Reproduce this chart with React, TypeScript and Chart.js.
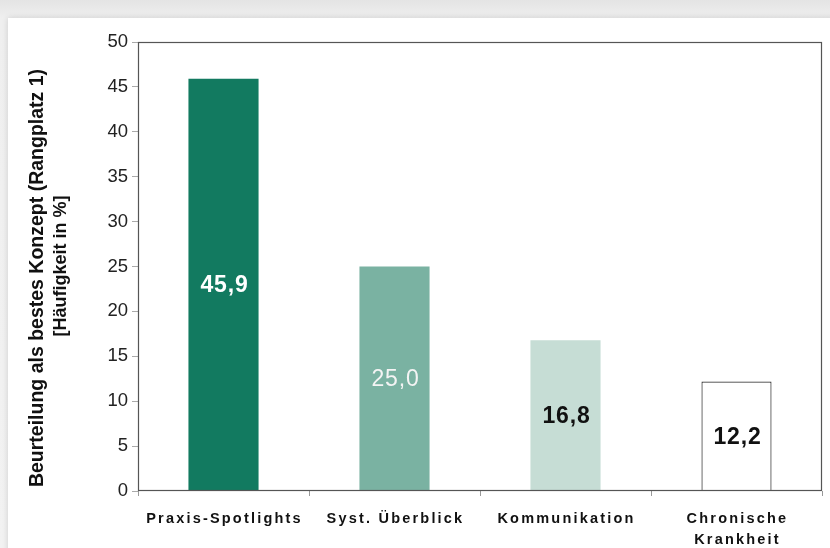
import React, { useEffect, useRef } from "react";
import { Chart, registerables } from "chart.js";

Chart.register(...registerables);

const categories = ["Praxis-Spotlights", "Syst. Überblick", "Kommunikation", ["Chronische", "Krankheit"]];
const values = [45.9, 25.0, 16.8, 12.2];
const valueLabels = ["45,9", "25,0", "16,8", "12,2"];
const barColors = ["#127a60", "#7ab2a2", "#c6ddd5", "#ffffff"];
const labelColors = ["#ffffff", "#f4f4f4", "#111111", "#111111"];
const labelWeights = ["bold", "normal", "bold", "bold"];
const yTitle = ["Beurteilung als bestes Konzept (Rangplatz 1)", "[Häufigkeit in %]"];

const FONT = "'Liberation Sans', Arial, sans-serif";

const customPlugin = {
  id: "custom",
  afterDraw(chart: any) {
    const ctx = chart.ctx;
    const a = chart.chartArea;
    const x = chart.scales.x;
    const y = chart.scales.y;
    ctx.save();
    ctx.strokeStyle = "#555";
    ctx.lineWidth = 1.2;
    ctx.strokeRect(a.left + 0.5, a.top + 0.5, a.right - a.left - 1, a.bottom - a.top - 1);

    // value labels
    ctx.textAlign = "center";
    ctx.textBaseline = "middle";
    (ctx as any).letterSpacing = "0.8px";
    values.forEach((v, i) => {
      const px = x.getPixelForValue(i);
      const py = y.getPixelForValue(v / 2);
      ctx.font = `${labelWeights[i]} 23px ${FONT}`;
      ctx.fillStyle = labelColors[i];
      ctx.fillText(valueLabels[i], px + 1, py + 1);
    });

    // x labels
    ctx.font = `bold 14.5px ${FONT}`;
    (ctx as any).letterSpacing = "2.2px";
    ctx.fillStyle = "#111";
    categories.forEach((c, i) => {
      const px = x.getPixelForValue(i);
      const lines = Array.isArray(c) ? c : [c];
      lines.forEach((ln, j) => {
        ctx.fillText(ln, px + 1, 519 + j * 21);
      });
    });
    (ctx as any).letterSpacing = "0px";

    // y title
    ctx.fillStyle = "#111";
    ctx.translate(38, 278);
    ctx.rotate(-Math.PI / 2);
    ctx.font = `bold 19.5px ${FONT}`;
    ctx.fillText(yTitle[0], 0, 0);
    ctx.font = `bold 18px ${FONT}`;
    ctx.fillText(yTitle[1], 12, 23);
    ctx.restore();
  },
};

export default function App() {
  const ref = useRef<HTMLCanvasElement>(null);
  useEffect(() => {
    const chart = new Chart(ref.current!, {
      type: "bar",
      data: {
        labels: categories.map((c) => (Array.isArray(c) ? c.join(" ") : c)),
        datasets: [
          {
            data: values,
            backgroundColor: barColors,
            borderColor: ["#127a60", "#7ab2a2", "#c6ddd5", "#333333"],
            borderWidth: [0, 0, 0, 1.2],
            categoryPercentage: 1,
            barPercentage: 0.41,
          },
        ],
      },
      options: {
        responsive: false,
        animation: false,
        events: [],
        layout: { padding: { left: 0, top: 42, right: 8, bottom: 0 } },
        plugins: { legend: { display: false }, tooltip: { enabled: false } },
        scales: {
          x: {
            offset: true,
            grid: { display: true, offset: true, drawOnChartArea: false, drawTicks: true, tickLength: 5, color: "#999" },
            border: { display: false },
            ticks: { color: "rgba(0,0,0,0)", font: { size: 14 } },
            afterFit: (s: any) => { s.height = 57; },
          },
          y: {
            min: 0,
            max: 50,
            grid: { display: true, drawOnChartArea: false, drawTicks: true, tickLength: 6, color: "#aaa" },
            border: { display: false },
            ticks: { stepSize: 5, color: "#222", padding: 4, font: { size: 18.5, family: FONT } },
            afterFit: (s: any) => { s.width = 138; },
          },
        },
      },
      plugins: [customPlugin],
    });
    return () => chart.destroy();
  }, []);
  return (
    <div style={{ position: "fixed", left: 0, top: 0, width: 830, height: 548, background: "linear-gradient(#e4e4e4, #efefef 18px, #f2f2f2)", overflow: "hidden" }}>
      <div style={{ position: "absolute", left: 8, top: 18, width: 840, height: 560, background: "#fff", boxShadow: "0 0 6px rgba(0,0,0,0.15)" }} />
      <canvas ref={ref} width={830} height={548} style={{ position: "absolute", left: 0, top: 0 }} />
    </div>
  );
}
